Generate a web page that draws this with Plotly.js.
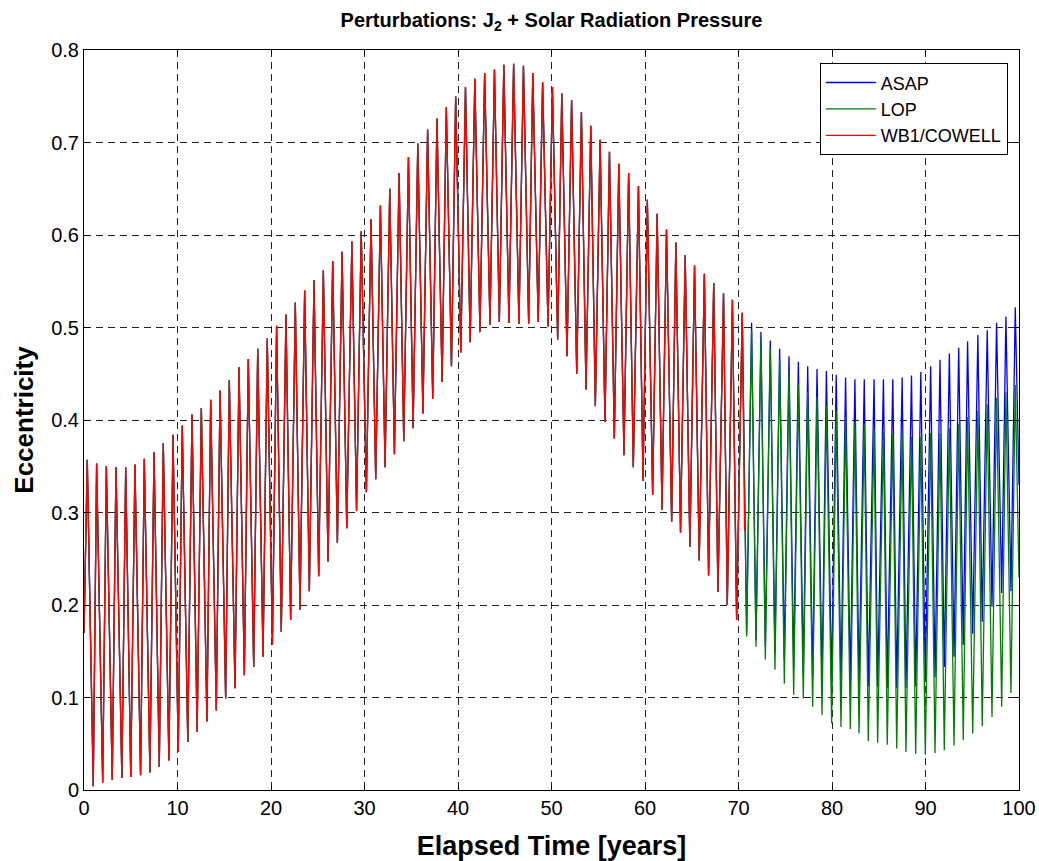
<!DOCTYPE html>
<html>
<head>
<meta charset="utf-8">
<script src="https://cdn.plot.ly/plotly-3.0.1.min.js"></script>
<style>html,body{margin:0;padding:0;background:#fff;}#chart{width:1039px;height:861px;}</style>
</head>
<body>
<div id="chart"></div>
<script>
// ---- Data (years, eccentricity) ----
// Shared part (all three propagators overlap up to ~70 years)
var startT = 0.0;
var startV = 0.17;
var commonPeakT = [0.35,1.35,2.39,3.42,4.46,5.45,6.45,7.49,8.48,9.52,10.51,11.55,12.55,13.55,14.55,15.54,16.58,17.57,18.58,19.6,
  20.6,21.6,22.6,23.6,24.6,25.6,26.6,27.6,28.65,29.65,30.7,31.7,32.7,33.7,34.7,35.7,36.75,37.75,38.75,39.75,40.8,
  41.8,42.85,43.9,44.9,45.95,47.0,48.0,49.05,50.1,51.1,52.15,53.2,54.2,55.2,56.2,57.2,58.25,59.3,60.25,61.3,62.3,
  63.3,64.3,65.3,66.35,67.35,68.4,69.35,70.4];
var commonPeakV = [0.357,0.353,0.350,0.349,0.349,0.352,0.358,0.365,0.375,0.384,0.394,0.406,0.413,0.422,0.432,0.443,0.457,0.466,0.477,0.488,
  0.502,0.514,0.527,0.540,0.551,0.562,0.572,0.582,0.593,0.604,0.617,0.632,0.650,0.667,0.684,0.699,0.714,0.726,0.738,0.750,0.760,
  0.769,0.775,0.779,0.784,0.785,0.783,0.775,0.765,0.760,0.753,0.746,0.733,0.718,0.703,0.690,0.677,0.667,0.653,0.638,0.623,0.606,
  0.592,0.578,0.567,0.558,0.548,0.537,0.530,0.516];
var commonTroughT = [0.99,2.0,3.02,4.05,5.0,6.05,7.05,8.05,9.08,10.08,11.1,12.1,13.15,14.15,15.15,16.15,17.15,18.15,19.15,20.15,
  21.1,22.1,23.1,24.1,25.1,26.1,27.1,28.1,29.15,30.2,31.2,32.2,33.2,34.2,35.2,36.25,37.3,38.3,39.3,40.3,
  41.3,42.35,43.42,44.42,45.45,46.52,47.56,48.58,49.63,50.66,51.66,52.7,53.69,54.69,55.72,56.72,57.75,58.75,59.79,60.82,61.82,
  62.85,63.8,64.8,65.8,66.8,67.8,68.8,69.8];
var commonTroughV = [0.004,0.008,0.011,0.013,0.014,0.016,0.019,0.025,0.032,0.041,0.052,0.063,0.074,0.086,0.099,0.110,0.124,0.133,0.144,0.157,
  0.171,0.184,0.195,0.215,0.231,0.247,0.267,0.283,0.302,0.322,0.336,0.349,0.363,0.377,0.391,0.407,0.423,0.441,0.458,0.473,
  0.484,0.495,0.503,0.506,0.505,0.504,0.504,0.506,0.501,0.487,0.469,0.450,0.433,0.415,0.398,0.380,0.362,0.349,0.334,0.319,0.303,
  0.290,0.278,0.263,0.248,0.232,0.214,0.200,0.184];

// After ~70 years: WB1/COWELL ends, ASAP and LOP diverge
var redEndT = 70.65, redEndV = 0.28;

var tailTroughT = [70.87,71.87,72.87,73.9,74.9,75.9,76.93,77.93,78.93,79.96,80.96,81.96,
  82.89,83.88,84.88,85.91,86.92,87.91,88.95,89.98,91.02,92.01,93.05,94.04,95.05,96.07,97.11,98.15,99.14];
var tailPeakT = [71.4,72.4,73.4,74.4,75.4,76.4,77.4,78.4,79.4,80.45,81.45,82.45,
  83.45,84.5,85.5,86.5,87.5,88.5,89.5,90.55,91.55,92.55,93.55,94.5,95.6,96.6,97.6,98.6,99.6];

var asapTroughV = [0.169,0.162,0.155,0.148,0.141,0.133,0.126,0.122,0.117,0.115,0.115,0.115,
  0.112,0.112,0.112,0.110,0.110,0.110,0.112,0.117,0.122,0.133,0.144,0.157,0.169,0.182,0.198,0.213,0.215];
var asapPeakV = [0.505,0.495,0.486,0.477,0.469,0.463,0.458,0.455,0.453,0.449,0.446,0.444,
  0.444,0.444,0.444,0.444,0.446,0.448,0.452,0.458,0.465,0.472,0.478,0.485,0.492,0.497,0.505,0.512,0.522];
var asapEndV = 0.33;

var lopTroughV = [0.166,0.155,0.141,0.130,0.115,0.103,0.099,0.090,0.081,0.072,0.068,0.066,
  0.061,0.053,0.051,0.049,0.045,0.041,0.039,0.038,0.040,0.043,0.048,0.054,0.061,0.069,0.079,0.090,0.105];
var lopPeakV = [0.497,0.486,0.477,0.466,0.452,0.438,0.430,0.425,0.416,0.410,0.403,0.398,
  0.395,0.390,0.387,0.385,0.384,0.382,0.382,0.386,0.386,0.391,0.396,0.403,0.410,0.417,0.424,0.430,0.438];
var lopEndV = 0.23;
var endT = 100;

var seriesNames = ['ASAP','LOP','WB1/COWELL'];

// ---- Build the polylines by interleaving the read peaks and troughs ----
function interleave(x, y, pT, pV, tT, tV) {
  for (var i = 0; i < pT.length; i++) {
    x.push(pT[i]); y.push(pV[i]);
    if (i < tT.length) { x.push(tT[i]); y.push(tV[i]); }
  }
}
function commonPart() {
  var x = [startT], y = [startV];
  interleave(x, y, commonPeakT, commonPeakV, commonTroughT, commonTroughV);
  return {x: x, y: y};
}
function withTail(troughV, peakV, endV) {
  var c = commonPart();
  interleave(c.x, c.y, tailTroughT, troughV, tailPeakT, peakV);
  c.x.push(endT); c.y.push(endV);
  return c;
}
var asap = withTail(asapTroughV, asapPeakV, asapEndV);
var lop = withTail(lopTroughV, lopPeakV, lopEndV);
var red = commonPart(); red.x.push(redEndT); red.y.push(redEndV);

var traces = [
  {x: asap.x, y: asap.y, mode: 'lines', name: seriesNames[0], line: {color: '#0000ff', width: 1.3}},
  {x: lop.x, y: lop.y, mode: 'lines', name: seriesNames[1], line: {color: '#008000', width: 1.3}},
  {x: red.x, y: red.y, mode: 'lines', name: seriesNames[2], line: {color: '#ff0000', width: 1.3}}
];

var FONT = 'Liberation Sans, Arial, Helvetica, sans-serif';
var layout = {
  width: 1039, height: 861,
  paper_bgcolor: '#ffffff', plot_bgcolor: '#ffffff',
  margin: {l: 84, r: 20, t: 50, b: 71},
  showlegend: true,
  font: {family: FONT, color: '#000', size: 20},
  title: {
    text: '<b>Perturbations: J<sub>2</sub> + Solar Radiation Pressure</b>',
    font: {family: FONT, size: 20, color: '#000'},
    x: 0.5, xref: 'paper', xanchor: 'center',
    y: 1 - 20 / 861, yref: 'container', yanchor: 'middle'
  },
  xaxis: {
    range: [0, 100], dtick: 10, tick0: 0,
    showgrid: true, gridcolor: '#222', gridwidth: 1, griddash: '7px,5px',
    zeroline: false, showline: true, linecolor: '#000', linewidth: 1, mirror: 'ticks',
    ticks: 'inside', ticklen: 5, tickcolor: '#000',
    tickfont: {family: FONT, size: 20, color: '#000'},
    title: {text: '<b>Elapsed Time [years]</b>', font: {family: FONT, size: 27, color: '#000'}, standoff: 21},
    automargin: false
  },
  yaxis: {
    range: [0, 0.8], dtick: 0.1, tick0: 0,
    showgrid: true, gridcolor: '#222', gridwidth: 1, griddash: '7px,5px',
    zeroline: false, showline: true, linecolor: '#000', linewidth: 1, mirror: 'ticks',
    ticks: 'inside', ticklen: 5, tickcolor: '#000',
    tickfont: {family: FONT, size: 20, color: '#000'},
    title: {text: '<b>Eccentricity</b>', font: {family: FONT, size: 26, color: '#000'}, standoff: 10},
    automargin: false
  },
  legend: {
    x: 0.988, xanchor: 'right', y: 0.982, yanchor: 'top',
    bgcolor: '#ffffff', bordercolor: '#000', borderwidth: 1,
    font: {family: FONT, size: 18, color: '#000'},
    itemwidth: 50,
    tracegroupgap: 0
  }
};

Plotly.newPlot('chart', traces, layout, {staticPlot: true, displayModeBar: false});
</script>
</body>
</html>
